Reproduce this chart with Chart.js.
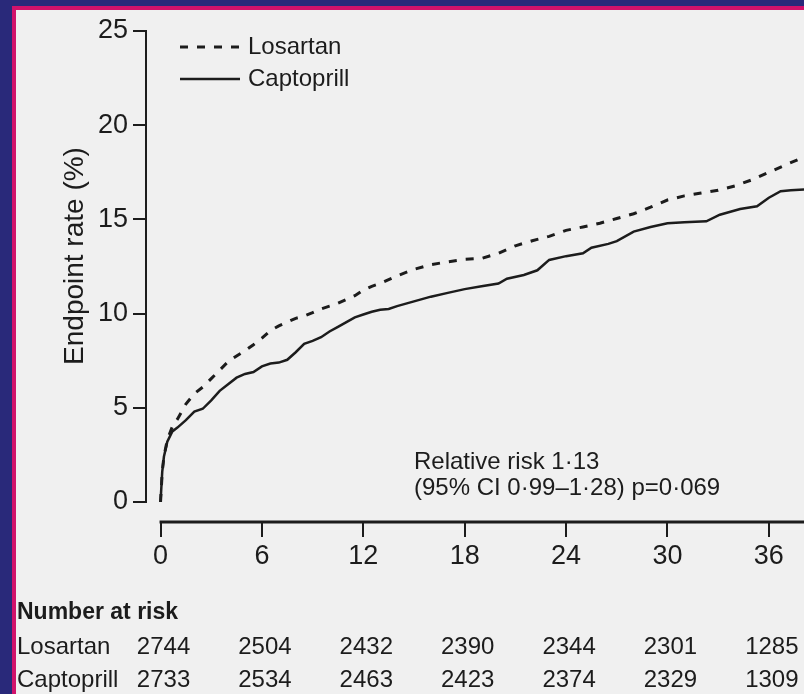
<!DOCTYPE html>
<html>
<head>
<meta charset="utf-8">
<script src="https://cdn.jsdelivr.net/npm/chart.js@4.4.1/dist/chart.umd.min.js"></script>
<style>
  html, body { margin: 0; padding: 0; width: 804px; height: 694px; overflow: hidden; background: #29297a; }
  #frame { position: absolute; left: 12px; top: 6px; right: 0; bottom: 0; background: #d1126b; }
  #panel { position: absolute; left: 16px; top: 10px; right: 0; bottom: 0; background: #f0f0f0; }
  #wrap { position: absolute; left: 0; top: 0; width: 804px; height: 694px; }
</style>
</head>
<body>
<div id="frame"></div>
<div id="panel"></div>
<div id="wrap"><canvas id="c" width="804" height="694"></canvas></div>
<script>
// Cumulative endpoint rate (%) by month of follow-up
const losartanMonths = [0, 0.1, 0.2, 0.4, 0.7, 1, 1.5, 2, 2.5, 3, 3.5, 4, 4.5, 5, 5.5, 6, 6.5, 7, 7.5, 8, 8.5, 9, 9.5, 10, 10.5, 11, 11.5, 12, 12.5, 13, 13.5, 14, 15, 16, 17, 18, 19, 20, 21, 22, 23, 24, 25, 26, 27, 28, 29, 30, 31, 32, 33, 34, 35, 36, 37, 38.2];
const losartanRate   = [0, 1.6, 2.4, 3.3, 4.0, 4.4, 5.2, 5.75, 6.1, 6.55, 7.0, 7.45, 7.75, 8.03, 8.35, 8.7, 9.1, 9.35, 9.55, 9.75, 9.87, 10.05, 10.25, 10.4, 10.55, 10.75, 10.95, 11.25, 11.45, 11.6, 11.8, 12.0, 12.35, 12.6, 12.75, 12.88, 12.93, 13.2, 13.6, 13.87, 14.1, 14.42, 14.6, 14.8, 15.05, 15.3, 15.65, 16.03, 16.25, 16.4, 16.55, 16.78, 17.1, 17.5, 17.9, 18.35];

const captoprilMonths = [0, 0.1, 0.2, 0.4, 0.7, 1, 1.5, 2, 2.5, 3, 3.5, 4, 4.5, 5, 5.5, 6, 6.5, 7, 7.5, 8, 8.5, 9, 9.5, 10, 10.5, 11, 11.5, 12, 12.5, 13, 13.5, 14, 15, 16, 17, 18, 19, 20, 20.5, 21.5, 22.3, 23, 24, 25, 25.5, 26.5, 27, 28, 29, 30, 31, 32.3, 33.1, 34.3, 35.3, 36, 36.7, 37.3, 38.2];
const captoprilRate   = [0, 1.6, 2.4, 3.2, 3.75, 3.95, 4.35, 4.8, 4.95, 5.4, 5.9, 6.25, 6.6, 6.8, 6.9, 7.2, 7.35, 7.4, 7.55, 7.95, 8.4, 8.55, 8.75, 9.05, 9.3, 9.55, 9.8, 9.95, 10.1, 10.2, 10.25, 10.4, 10.65, 10.9, 11.1, 11.3, 11.45, 11.6, 11.85, 12.05, 12.3, 12.85, 13.05, 13.2, 13.5, 13.7, 13.85, 14.35, 14.6, 14.8, 14.85, 14.9, 15.25, 15.55, 15.7, 16.15, 16.5, 16.55, 16.6];

// Axis ticks
const xTickValues = [0, 6, 12, 18, 24, 30, 36];
const yTickValues = [0, 5, 10, 15, 20, 25];

// Number at risk table
const riskMonths = [0, 6, 12, 18, 24, 30, 36];
const losartanAtRisk  = [2744, 2504, 2432, 2390, 2344, 2301, 1285];
const captoprilAtRisk = [2733, 2534, 2463, 2423, 2374, 2329, 1309];

const seriesNames = ['Losartan', 'Captoprill'];
const riskText = ['Relative risk 1\u00b713', '(95% CI 0\u00b799\u20131\u00b728) p=0\u00b7069'];

const FONT = "'Liberation Sans', Arial, Helvetica, sans-serif";
const INK = '#1c1c1c';

const toPoints = (xs, ys) => xs.map((m, i) => ({ x: m, y: ys[i] }));

const decor = {
  id: 'decor',
  afterDraw(chart) {
    const ctx = chart.ctx;
    const xs = chart.scales.x, ys = chart.scales.y;
    const area = chart.chartArea;
    ctx.save();
    ctx.strokeStyle = INK;
    ctx.lineCap = 'butt';

    // detached y axis line (0 to 25)
    ctx.lineWidth = 2;
    ctx.beginPath();
    ctx.moveTo(area.left, ys.getPixelForValue(yTickValues[yTickValues.length - 1]) - 1);
    ctx.lineTo(area.left, ys.getPixelForValue(0) + 1);
    ctx.stroke();

    // detached x axis line from month 0
    ctx.lineWidth = 3;
    ctx.beginPath();
    ctx.moveTo(xs.getPixelForValue(0) - 1, area.bottom);
    ctx.lineTo(area.right, area.bottom);
    ctx.stroke();

    // y axis title
    ctx.fillStyle = INK;
    ctx.save();
    ctx.translate(75, 256);
    ctx.rotate(-Math.PI / 2);
    ctx.font = '28px ' + FONT;
    ctx.textAlign = 'center';
    ctx.textBaseline = 'middle';
    ctx.fillText('Endpoint rate (%)', 0, 0);
    ctx.restore();

    // legend
    const legendY = [47, 79];
    chart.data.datasets.forEach((ds, i) => {
      ctx.save();
      ctx.strokeStyle = ds.borderColor;
      ctx.lineWidth = ds.borderWidth;
      ctx.setLineDash(ds.borderDash || []);
      ctx.beginPath();
      ctx.moveTo(180, legendY[i]);
      ctx.lineTo(240, legendY[i]);
      ctx.stroke();
      ctx.restore();
      ctx.font = '24px ' + FONT;
      ctx.textAlign = 'left';
      ctx.textBaseline = 'middle';
      ctx.fillText(ds.label, 248, legendY[i]);
    });

    // relative risk annotation
    ctx.font = '24px ' + FONT;
    ctx.textAlign = 'left';
    ctx.textBaseline = 'middle';
    ctx.fillText(riskText[0], xs.getPixelForValue(15), ys.getPixelForValue(2.1));
    ctx.fillText(riskText[1], xs.getPixelForValue(15), ys.getPixelForValue(0.7));

    // number at risk
    ctx.font = 'bold 23px ' + FONT;
    ctx.fillText('Number at risk', 17, 613);
    ctx.font = '24px ' + FONT;
    const rows = [losartanAtRisk, captoprilAtRisk];
    const rowY = [647, 680];
    rows.forEach((vals, r) => {
      ctx.textAlign = 'left';
      ctx.fillText(seriesNames[r], 17, rowY[r]);
      ctx.textAlign = 'center';
      vals.forEach((v, k) => {
        ctx.fillText(String(v), xs.getPixelForValue(riskMonths[k]) + 3, rowY[r]);
      });
    });
    ctx.restore();
  }
};

new Chart(document.getElementById('c'), {
  type: 'line',
  data: {
    datasets: [
      {
        label: seriesNames[0],
        data: toPoints(losartanMonths, losartanRate),
        borderColor: INK,
        borderWidth: 3,
        borderDash: [8, 9],
        pointRadius: 0,
        tension: 0,
        fill: false
      },
      {
        label: seriesNames[1],
        data: toPoints(captoprilMonths, captoprilRate),
        borderColor: INK,
        borderWidth: 2.5,
        pointRadius: 0,
        tension: 0,
        fill: false
      }
    ]
  },
  options: {
    responsive: false,
    animation: false,
    devicePixelRatio: 1,
    layout: { padding: { left: 0, top: 31, right: 0, bottom: 0 } },
    plugins: { legend: { display: false }, tooltip: { enabled: false } },
    scales: {
      x: {
        type: 'linear',
        min: -0.86,
        max: 38.08,
        offset: false,
        border: { display: false },
        grid: { drawOnChartArea: false, drawTicks: true, tickLength: 15, color: INK, lineWidth: 2 },
        ticks: { color: INK, font: { family: FONT, size: 27 }, padding: 3, maxRotation: 0 },
        afterBuildTicks(scale) { scale.ticks = xTickValues.map(v => ({ value: v })); },
        afterFit(scale) { scale.height = 172; }
      },
      y: {
        type: 'linear',
        min: -1.06,
        max: 25,
        border: { display: false },
        grid: { drawOnChartArea: false, drawTicks: true, tickLength: 13, color: INK, lineWidth: 2 },
        ticks: { color: INK, font: { family: FONT, size: 27 }, padding: 5 },
        afterBuildTicks(scale) { scale.ticks = yTickValues.map(v => ({ value: v })); },
        afterFit(scale) { scale.width = 146; }
      }
    }
  },
  plugins: [decor]
});
</script>
</body>
</html>
